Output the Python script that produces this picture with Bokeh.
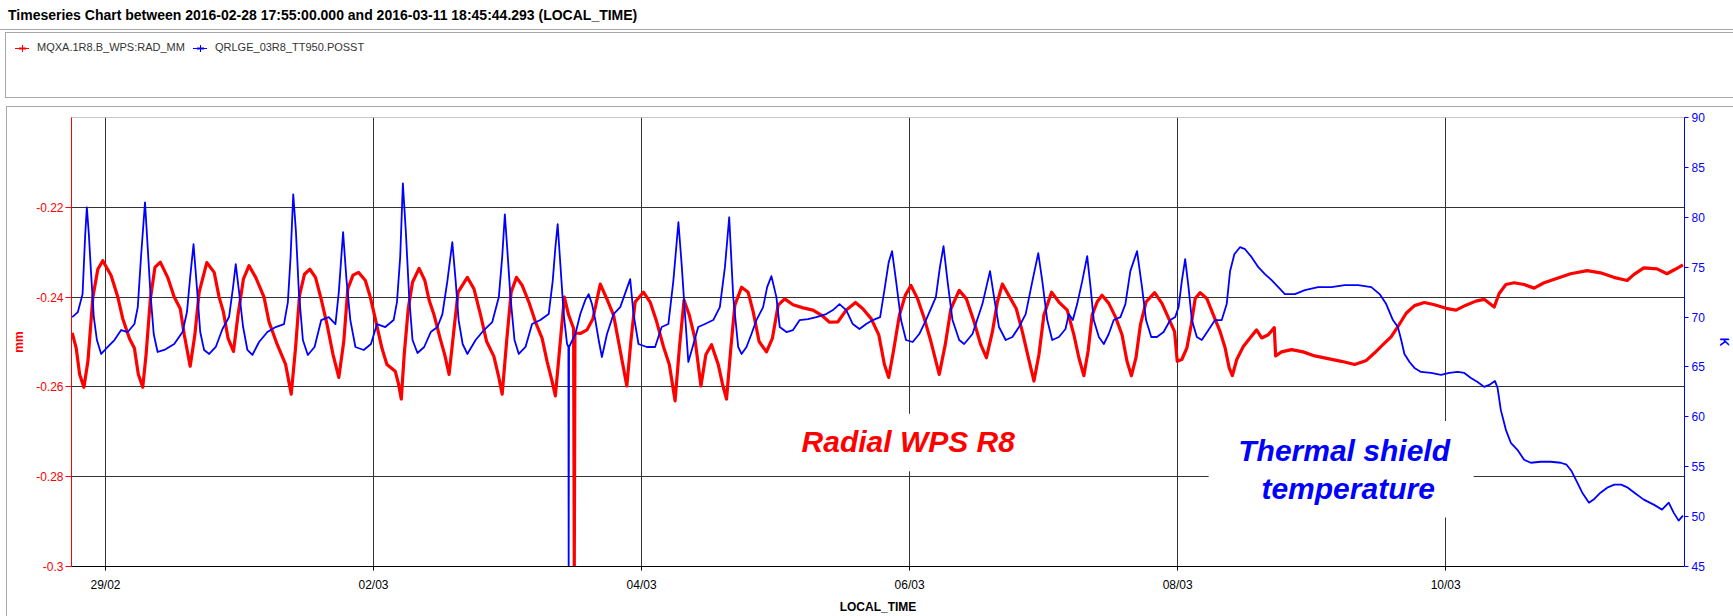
import numpy as np
import pandas as pd
from bokeh.plotting import figure
from bokeh.layouts import column, row
from bokeh.models import (Range1d, LinearAxis, FixedTicker, DatetimeTickFormatter,
                          CustomJSTickFormatter, Label, BoxAnnotation, Div)
from bokeh.embed import file_html
from bokeh.resources import INLINE

# ---------------------------------------------------------------- data
TITLE = ("Timeseries Chart between 2016-02-28 17:55:00.000 and "
         "2016-03-11 18:45:44.293 (LOCAL_TIME)")
T_START = "2016-02-28 17:55:00.000"
T_END = "2016-03-11 18:45:44.293"
DAY_ZERO = "2016-02-29 00:00:00"          # time values below are days after this

series_names = ["MQXA.1R8.B_WPS:RAD_MM", "QRLGE_03R8_TT950.POSST"]
date_ticks = ["2016-02-29", "2016-03-02", "2016-03-04",
              "2016-03-06", "2016-03-08", "2016-03-10"]
mm_ticks = [-0.30, -0.28, -0.26, -0.24, -0.22]
k_ticks = [45, 50, 55, 60, 65, 70, 75, 80, 85, 90]

# radial WPS position (mm)
rad_days = [
    -0.248, -0.218, -0.193, -0.161, -0.131, -0.094, -0.057, -0.020, 0.042, 0.092,
    0.129, 0.179, 0.216, 0.245, 0.278, 0.303, 0.335, 0.369, 0.409, 0.464,
    0.513, 0.558, 0.588, 0.632, 0.667, 0.699, 0.756, 0.811, 0.848, 0.880,
    0.915, 0.955, 0.989, 1.029, 1.071, 1.121, 1.183, 1.220, 1.282, 1.344,
    1.386, 1.418, 1.448, 1.485, 1.525, 1.567, 1.609, 1.654, 1.698, 1.741,
    1.778, 1.808, 1.847, 1.889, 1.939, 1.976, 2.013, 2.063, 2.100, 2.162,
    2.187, 2.207, 2.229, 2.259, 2.291, 2.340, 2.383, 2.415, 2.452, 2.497,
    2.531, 2.564, 2.596, 2.631, 2.700, 2.750, 2.799, 2.844, 2.898, 2.935,
    2.960, 2.993, 3.027, 3.067, 3.109, 3.159, 3.208, 3.258, 3.295, 3.332,
    3.357, 3.389, 3.424, 3.456, 3.493, 3.498, 3.503, 3.543, 3.593, 3.637,
    3.692, 3.741, 3.791, 3.828, 3.860, 3.890, 3.920, 3.952, 4.014, 4.064,
    4.113, 4.163, 4.207, 4.250, 4.282, 4.317, 4.356, 4.398, 4.443, 4.480,
    4.522, 4.572, 4.604, 4.634, 4.666, 4.696, 4.746, 4.795, 4.833, 4.877,
    4.932, 4.976, 5.019, 5.068, 5.130, 5.205, 5.279, 5.341, 5.403, 5.465,
    5.527, 5.596, 5.651, 5.713, 5.770, 5.812, 5.844, 5.879, 5.924, 5.968,
    6.010, 6.060, 6.110, 6.159, 6.221, 6.266, 6.308, 6.370, 6.424, 6.481,
    6.531, 6.573, 6.618, 6.655, 6.692, 6.747, 6.796, 6.841, 6.886, 6.928,
    6.965, 7.002, 7.059, 7.114, 7.176, 7.226, 7.263, 7.300, 7.332, 7.362,
    7.399, 7.436, 7.486, 7.536, 7.585, 7.622, 7.655, 7.689, 7.722, 7.764,
    7.828, 7.883, 7.932, 7.977, 7.997, 8.031, 8.069, 8.101, 8.131, 8.168,
    8.217, 8.267, 8.317, 8.354, 8.384, 8.408, 8.441, 8.490, 8.540, 8.589,
    8.627, 8.676, 8.721, 8.731, 8.775, 8.850, 8.936, 9.023, 9.122, 9.222,
    9.321, 9.408, 9.470, 9.532, 9.594, 9.643, 9.705, 9.767, 9.841, 9.916,
    10.002, 10.077, 10.151, 10.225, 10.287, 10.362, 10.399, 10.449, 10.511, 10.585,
    10.660, 10.734, 10.833, 10.932, 11.056, 11.155, 11.254, 11.354, 11.403, 11.478,
    11.577, 11.651, 11.713, 11.770,
]
rad_mm = [
    -0.2480, -0.2514, -0.2572, -0.2601, -0.2543, -0.2400, -0.2338, -0.2319, -0.2352, -0.2400,
    -0.2448, -0.2492, -0.2514, -0.2572, -0.2601, -0.2528, -0.2404, -0.2334, -0.2322, -0.2356,
    -0.2400, -0.2426, -0.2484, -0.2554, -0.2484, -0.2389, -0.2323, -0.2345, -0.2400, -0.2433,
    -0.2492, -0.2521, -0.2440, -0.2360, -0.2330, -0.2356, -0.2400, -0.2455, -0.2506, -0.2550,
    -0.2616, -0.2514, -0.2396, -0.2349, -0.2338, -0.2356, -0.2404, -0.2462, -0.2528, -0.2579,
    -0.2499, -0.2382, -0.2351, -0.2345, -0.2363, -0.2400, -0.2448, -0.2514, -0.2550, -0.2565,
    -0.2594, -0.2627, -0.2528, -0.2426, -0.2367, -0.2336, -0.2363, -0.2407, -0.2440, -0.2492,
    -0.2528, -0.2572, -0.2484, -0.2389, -0.2356, -0.2382, -0.2440, -0.2499, -0.2532, -0.2579,
    -0.2616, -0.2499, -0.2389, -0.2356, -0.2374, -0.2411, -0.2455, -0.2492, -0.2543, -0.2587,
    -0.2620, -0.2514, -0.2400, -0.2440, -0.2470, -0.3000, -0.2480, -0.2481, -0.2473, -0.2448,
    -0.2371, -0.2404, -0.2440, -0.2499, -0.2550, -0.2598, -0.2499, -0.2411, -0.2389, -0.2411,
    -0.2455, -0.2510, -0.2550, -0.2631, -0.2514, -0.2407, -0.2440, -0.2492, -0.2598, -0.2528,
    -0.2506, -0.2550, -0.2594, -0.2627, -0.2514, -0.2418, -0.2378, -0.2389, -0.2433, -0.2499,
    -0.2522, -0.2492, -0.2418, -0.2404, -0.2417, -0.2424, -0.2429, -0.2440, -0.2456, -0.2455,
    -0.2429, -0.2412, -0.2426, -0.2448, -0.2484, -0.2550, -0.2579, -0.2521, -0.2440, -0.2396,
    -0.2374, -0.2404, -0.2448, -0.2499, -0.2572, -0.2506, -0.2426, -0.2385, -0.2404, -0.2455,
    -0.2506, -0.2535, -0.2477, -0.2411, -0.2371, -0.2400, -0.2426, -0.2477, -0.2535, -0.2587,
    -0.2528, -0.2440, -0.2389, -0.2411, -0.2429, -0.2484, -0.2535, -0.2575, -0.2520, -0.2440,
    -0.2411, -0.2396, -0.2414, -0.2444, -0.2484, -0.2543, -0.2575, -0.2535, -0.2462, -0.2411,
    -0.2390, -0.2414, -0.2447, -0.2477, -0.2543, -0.2539, -0.2513, -0.2462, -0.2403, -0.2390,
    -0.2403, -0.2440, -0.2477, -0.2513, -0.2557, -0.2575, -0.2539, -0.2510, -0.2491, -0.2473,
    -0.2491, -0.2484, -0.2468, -0.2531, -0.2522, -0.2517, -0.2522, -0.2531, -0.2537, -0.2543,
    -0.2550, -0.2541, -0.2524, -0.2506, -0.2488, -0.2466, -0.2436, -0.2419, -0.2412, -0.2417,
    -0.2425, -0.2429, -0.2418, -0.2409, -0.2405, -0.2422, -0.2392, -0.2372, -0.2368, -0.2372,
    -0.2380, -0.2368, -0.2358, -0.2348, -0.2341, -0.2346, -0.2356, -0.2363, -0.2350, -0.2335,
    -0.2337, -0.2348, -0.2338, -0.2328,
]

# thermal shield temperature (K)
ts_days = [
    -0.248, -0.206, -0.171, -0.151, -0.139, -0.124, -0.107, -0.087, -0.064, -0.032,
    0.017, 0.067, 0.117, 0.166, 0.216, 0.241, 0.265, 0.295, 0.315, 0.335,
    0.360, 0.389, 0.439, 0.513, 0.575, 0.608, 0.632, 0.657, 0.682, 0.707,
    0.736, 0.774, 0.823, 0.873, 0.922, 0.952, 0.972, 0.997, 1.027, 1.059,
    1.096, 1.146, 1.208, 1.270, 1.332, 1.361, 1.381, 1.401, 1.421, 1.443,
    1.473, 1.510, 1.560, 1.610, 1.666, 1.716, 1.741, 1.773, 1.798, 1.827,
    1.865, 1.927, 1.981, 2.026, 2.088, 2.150, 2.175, 2.199, 2.219, 2.241,
    2.266, 2.291, 2.328, 2.378, 2.427, 2.477, 2.514, 2.551, 2.588, 2.613,
    2.635, 2.665, 2.700, 2.762, 2.824, 2.886, 2.935, 2.960, 2.980, 2.997,
    3.022, 3.052, 3.084, 3.134, 3.183, 3.245, 3.307, 3.337, 3.357, 3.374,
    3.394, 3.419, 3.444, 3.454, 3.456, 3.459, 3.506, 3.543, 3.580, 3.605,
    3.630, 3.655, 3.680, 3.704, 3.742, 3.791, 3.841, 3.915, 3.940, 3.977,
    4.039, 4.101, 4.150, 4.200, 4.237, 4.275, 4.299, 4.324, 4.349, 4.381,
    4.423, 4.473, 4.535, 4.584, 4.622, 4.654, 4.684, 4.721, 4.746, 4.783,
    4.820, 4.857, 4.907, 4.937, 4.969, 5.006, 5.031, 5.081, 5.130, 5.180,
    5.242, 5.304, 5.378, 5.428, 5.477, 5.527, 5.576, 5.626, 5.676, 5.725,
    5.780, 5.812, 5.844, 5.869, 5.899, 5.936, 5.973, 6.023, 6.072, 6.122,
    6.196, 6.226, 6.253, 6.283, 6.320, 6.370, 6.407, 6.469, 6.543, 6.600,
    6.630, 6.667, 6.717, 6.767, 6.816, 6.866, 6.916, 6.960, 6.990, 7.027,
    7.064, 7.114, 7.163, 7.188, 7.218, 7.250, 7.288, 7.325, 7.350, 7.374,
    7.412, 7.449, 7.486, 7.523, 7.573, 7.610, 7.647, 7.697, 7.734, 7.764,
    7.803, 7.845, 7.895, 7.945, 7.982, 8.007, 8.031, 8.056, 8.081, 8.106,
    8.143, 8.180, 8.230, 8.279, 8.329, 8.366, 8.391, 8.423, 8.465, 8.503,
    8.552, 8.602, 8.651, 8.701, 8.751, 8.800, 8.875, 8.949, 9.048, 9.147,
    9.246, 9.346, 9.445, 9.507, 9.556, 9.606, 9.643, 9.668, 9.692, 9.730,
    9.767, 9.816, 9.891, 9.965, 10.027, 10.089, 10.139, 10.188, 10.238, 10.287,
    10.325, 10.367, 10.387, 10.411, 10.449, 10.486, 10.535, 10.585, 10.635, 10.709,
    10.783, 10.858, 10.902, 10.937, 10.982, 11.019, 11.069, 11.111, 11.155, 11.205,
    11.259, 11.309, 11.359, 11.408, 11.478, 11.552, 11.614, 11.664, 11.701, 11.738,
    11.770,
]
ts_kelvin = [
    70.0, 70.5, 72.3, 78.3, 81.0, 78.3, 74.3, 70.0, 67.7, 66.3,
    67.0, 67.7, 68.7, 68.5, 69.3, 71.0, 76.0, 81.5, 77.0, 72.5,
    68.3, 66.5, 66.7, 67.3, 68.5, 70.5, 74.0, 77.3, 73.0, 68.5,
    66.7, 66.3, 67.0, 68.8, 70.0, 73.0, 75.3, 72.5, 69.0, 66.7,
    66.2, 67.5, 68.5, 69.0, 69.3, 71.5, 76.0, 82.3, 78.6, 72.5,
    67.7, 66.2, 67.0, 69.7, 70.0, 69.3, 72.5, 78.5, 73.8, 69.7,
    67.0, 66.7, 67.3, 69.3, 69.0, 69.7, 71.5, 76.0, 83.4, 78.6,
    72.0, 67.7, 66.4, 67.0, 68.5, 69.0, 70.3, 73.6, 77.5, 73.6,
    69.7, 67.3, 66.3, 67.7, 68.7, 69.5, 72.0, 76.0, 80.3, 77.0,
    72.0, 67.7, 66.3, 67.0, 69.3, 69.7, 70.3, 73.6, 77.0, 79.3,
    75.3, 70.3, 67.3, 67.0, 45.0, 67.0, 68.3, 70.3, 71.7, 72.3,
    71.3, 69.7, 67.7, 66.0, 68.3, 70.3, 71.0, 73.8, 70.3, 67.3,
    67.0, 67.0, 69.0, 69.3, 73.6, 79.5, 75.3, 70.3, 65.5, 67.0,
    69.0, 69.3, 69.7, 71.0, 75.0, 80.0, 72.0, 67.0, 66.3, 67.0,
    68.3, 69.7, 71.0, 73.0, 74.1, 72.0, 69.0, 68.5, 68.7, 69.7,
    69.8, 70.0, 70.3, 70.7, 71.3, 70.7, 69.3, 68.8, 69.3, 69.7,
    70.0, 72.7, 75.5, 76.6, 73.6, 69.7, 67.7, 67.5, 68.3, 69.7,
    72.0, 75.0, 77.1, 73.6, 69.7, 67.7, 67.3, 68.3, 71.3, 74.6,
    72.0, 69.0, 67.7, 68.0, 69.0, 70.3, 73.6, 76.4, 73.6, 69.7,
    67.7, 68.0, 68.8, 70.3, 69.7, 71.3, 73.6, 76.1, 73.0, 69.7,
    68.0, 67.3, 68.3, 69.7, 70.0, 71.3, 74.6, 76.6, 73.0, 69.7,
    68.0, 68.0, 68.5, 69.7, 70.0, 71.0, 73.6, 75.8, 73.0, 69.7,
    68.0, 67.7, 68.7, 69.7, 69.7, 71.3, 74.6, 76.3, 77.0, 76.8,
    76.0, 75.0, 74.3, 73.7, 73.0, 72.3, 72.3, 72.7, 73.0, 73.0,
    73.2, 73.2, 73.0, 72.3, 71.3, 69.7, 69.0, 67.7, 66.3, 65.5,
    64.9, 64.5, 64.4, 64.2, 64.4, 64.5, 64.4, 63.9, 63.5, 63.0,
    63.2, 63.6, 62.9, 60.7, 58.7, 57.4, 56.7, 55.7, 55.4, 55.5,
    55.5, 55.4, 55.2, 54.6, 53.4, 52.4, 51.4, 51.8, 52.4, 52.9,
    53.2, 53.2, 52.9, 52.4, 51.7, 51.2, 50.7, 51.4, 50.4, 49.6,
    50.1,
]

# ---------------------------------------------------------------- helpers
FONT = "Liberation Sans"
RED = "#ff0000"
BLUE = "#0000ff"
GRID = "#333333"
PANEL = "#a8a8a8"
W = 1733
HEAD_H = 107
CHART_H = 616 - HEAD_H
SIDE_W = 7


def to_time(days):
    return (pd.Timestamp(DAY_ZERO) + pd.to_timedelta(np.asarray(days), unit="D")).to_numpy()


def ms(ts):
    return pd.Timestamp(ts).value / 1e6


def day_ms(d):
    return ms(pd.Timestamp(DAY_ZERO) + pd.Timedelta(days=d))


def legend_glyph(color, left):
    return (f'<svg width="14" height="10" style="position:absolute;left:{left}px;top:43px">'
            f'<line x1="0" y1="5.5" x2="14" y2="5.5" stroke="{color}" stroke-width="1"/>'
            f'<line x1="7.5" y1="2" x2="7.5" y2="9" stroke="{color}" stroke-width="1"/>'
            f'<line x1="4" y1="5.5" x2="11" y2="5.5" stroke="{color}" stroke-width="2"/>'
            '</svg>')


def legend_text(text, left):
    return (f'<div style="position:absolute;left:{left}px;top:41px;font-size:11px;'
            f'line-height:13px;color:#333333;white-space:nowrap">{text}</div>')


# ---------------------------------------------------------------- header: title and legend panel
header_html = (
    f'<div style="position:relative;width:{W}px;height:{HEAD_H}px;overflow:hidden;'
    f'background:#ffffff;font-family:\'{FONT}\',sans-serif">'
    f'<div style="position:absolute;left:8px;top:7px;font-size:14px;font-weight:bold;'
    f'line-height:17px;color:#000000;white-space:nowrap">{TITLE}</div>'
    f'<div style="position:absolute;left:0;top:29px;width:{W}px;height:1px;background:{PANEL}"></div>'
    f'<div style="position:absolute;left:5px;top:32px;width:{W}px;height:66px;'
    f'border:1px solid {PANEL};background:#ffffff"></div>'
    + legend_glyph(RED, 15) + legend_text(series_names[0], 37)
    + legend_glyph(BLUE, 193) + legend_text(series_names[1], 215)
    + f'<div style="position:absolute;left:6px;top:106px;width:{W}px;height:1px;background:{PANEL}"></div>'
    '</div>'
)
header = Div(text=header_html, width=W, height=HEAD_H, margin=0)

side_html = (f'<div style="position:relative;width:{SIDE_W}px;height:{CHART_H}px;background:#ffffff">'
             f'<div style="position:absolute;left:6px;top:0;width:1px;height:{CHART_H}px;'
             f'background:{PANEL}"></div></div>')
side = Div(text=side_html, width=SIDE_W, height=CHART_H, margin=0)

# ---------------------------------------------------------------- chart
p = figure(width=W - SIDE_W, height=CHART_H, x_axis_type="datetime",
           x_range=Range1d(ms(T_START), ms(T_END)), y_range=Range1d(-0.3, -0.2),
           output_backend="svg", toolbar_location=None, title=None,
           min_border_left=71 - SIDE_W, min_border_right=46, min_border_top=10,
           min_border_bottom=45, background_fill_color="white",
           border_fill_color="white", outline_line_color="#c8c8c8", margin=0)
p.extra_y_ranges = {"temp": Range1d(45, 90)}

# bottom (time) axis
xax = p.xaxis[0]
xax.ticker = FixedTicker(ticks=[ms(d) for d in date_ticks])
xax.formatter = DatetimeTickFormatter(days="%d/%m", months="%d/%m", hours="%d/%m",
                                      years="%d/%m")
xax.axis_label = "LOCAL_TIME"
xax.axis_label_text_font = FONT
xax.axis_label_text_font_size = "12px"
xax.axis_label_text_font_style = "bold"
xax.axis_label_text_color = "#000000"
xax.axis_label_standoff = 5
xax.major_label_text_font = FONT
xax.major_label_text_font_size = "12px"
xax.major_label_text_color = "#000000"
xax.major_label_standoff = 7
xax.axis_line_color = "#000000"
xax.major_tick_line_color = "#000000"
xax.major_tick_in = 0
xax.major_tick_out = 4
xax.minor_tick_line_color = None

# left (mm) axis
yax = p.yaxis[0]
yax.ticker = FixedTicker(ticks=mm_ticks)
yax.formatter = CustomJSTickFormatter(code="return String(Number(tick.toFixed(3)));")
yax.axis_label = "mm"
yax.axis_label_text_font = FONT
yax.axis_label_text_font_size = "12px"
yax.axis_label_text_font_style = "bold"
yax.axis_label_text_color = RED
yax.axis_label_standoff = 7
yax.major_label_text_font = FONT
yax.major_label_text_font_size = "12px"
yax.major_label_text_color = RED
yax.major_label_standoff = 2
yax.axis_line_color = RED
yax.major_tick_line_color = RED
yax.major_tick_in = 0
yax.major_tick_out = 6
yax.minor_tick_line_color = None

# right (K) axis
rax = LinearAxis(y_range_name="temp", ticker=FixedTicker(ticks=k_ticks), axis_label="K")
rax.axis_label_text_font = FONT
rax.axis_label_text_font_size = "12px"
rax.axis_label_text_font_style = "bold"
rax.axis_label_text_color = BLUE
rax.axis_label_standoff = 9
rax.major_label_text_font = FONT
rax.major_label_text_font_size = "12px"
rax.major_label_text_color = BLUE
rax.major_label_standoff = 3
rax.axis_line_color = BLUE
rax.major_tick_line_color = BLUE
rax.major_tick_in = 0
rax.major_tick_out = 4
rax.minor_tick_line_color = None
p.add_layout(rax, "right")

# grid
p.xgrid.ticker = FixedTicker(ticks=[ms(d) for d in date_ticks])
p.ygrid.ticker = FixedTicker(ticks=mm_ticks)
for g in (p.xgrid[0], p.ygrid[0]):
    g.grid_line_color = GRID
    g.grid_line_width = 1
    g.grid_line_alpha = 1.0

# series
p.line(to_time(rad_days), rad_mm, line_color=RED, line_width=3.2, line_join="round")
p.line(to_time(ts_days), ts_kelvin, line_color=BLUE, line_width=1.8, line_join="round",
       y_range_name="temp")

# annotations with white backing boxes
p.add_layout(BoxAnnotation(left=day_ms(5.11), right=day_ms(6.89), top=-0.2660, bottom=-0.2788,
                           fill_color="white", fill_alpha=1.0, line_alpha=0.0))
p.add_layout(BoxAnnotation(left=day_ms(8.231), right=day_ms(10.209), top=-0.2676,
                           bottom=-0.2891, fill_color="white", fill_alpha=1.0, line_alpha=0.0))
p.add_layout(Label(x=day_ms(5.990), y=-0.2722, text="Radial WPS R8",
                   text_align="center", text_baseline="middle", text_font=FONT,
                   text_font_size="30px", text_font_style="bold italic", text_color=RED))
p.add_layout(Label(x=day_ms(9.242), y=-0.2742, text="Thermal shield",
                   text_align="center", text_baseline="middle", text_font=FONT,
                   text_font_size="30px", text_font_style="bold italic", text_color=BLUE))
p.add_layout(Label(x=day_ms(9.272), y=-0.2827, text="temperature",
                   text_align="center", text_baseline="middle", text_font=FONT,
                   text_font_size="30px", text_font_style="bold italic", text_color=BLUE))

layout = column(header, row(side, p, spacing=0), spacing=0)
open("out.html", "w").write(file_html(layout, INLINE))
